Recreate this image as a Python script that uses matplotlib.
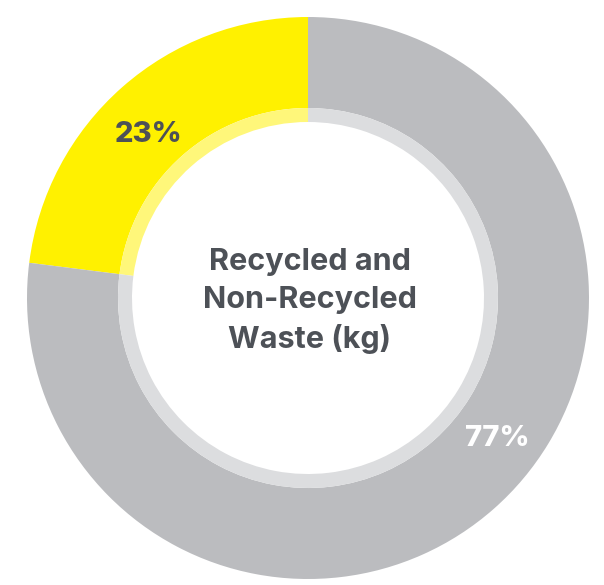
import matplotlib.pyplot as plt

labels = ['Recycled', 'Non-Recycled']
shares = [23, 77]
colors = ['#FFF100', '#BBBCBF']
light_colors = ['#FFF77A', '#DCDDDF']
label_colors = ['#4D5157', '#FFFFFF']

fig = plt.figure(figsize=(6.04, 5.85), dpi=100)
ax = fig.add_axes([0, 0, 1, 1])

# outer ring
ax.pie(shares, colors=colors, radius=281, startangle=90, counterclock=True,
       wedgeprops=dict(width=281 - 190, linewidth=0))
# lighter inner band
ax.pie(shares, colors=light_colors, radius=190, startangle=90, counterclock=True,
       wedgeprops=dict(width=190 - 176, linewidth=0))
ax.set_xlim(-308, 296)
ax.set_ylim(-287, 298)
ax.set_aspect('equal')
ax.axis('off')

font = 'Inter'
ax.text(-159, 163, f'{shares[0]}%', ha='center', va='center', fontsize=21,
        fontweight='heavy', color=label_colors[0], family=font)
ax.text(189, -140, f'{shares[1]}%', ha='center', va='center', fontsize=21,
        fontweight='heavy', color=label_colors[1], family=font)
ax.text(2, -3, 'Recycled and\nNon-Recycled\nWaste (kg)', ha='center', va='center',
        fontsize=22, fontweight='bold', color='#4D5157', family=font,
        linespacing=1.45)

fig.savefig('out.png', dpi=100)
